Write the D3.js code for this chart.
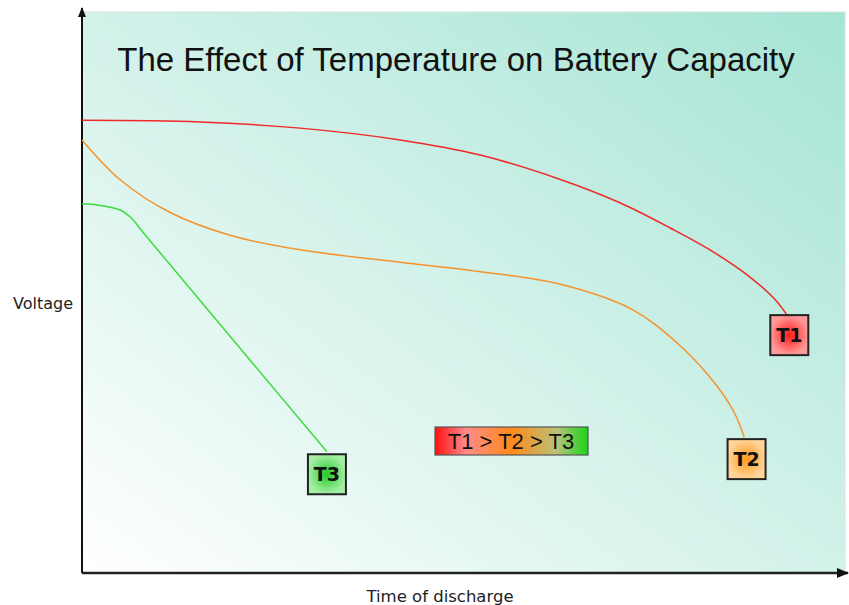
<!DOCTYPE html>
<html lang="en">
<head>
<meta charset="UTF-8">
<script src="https://d3js.org/d3.v7.min.js"></script>
<style>
  body { margin: 0; background: #fff; }
  svg { display: block; }
</style>
</head>
<body>
<div id="chart"></div>
<script>
// discharge curves: [time, voltage] in arbitrary units (0-100)
const t1Curve = [[0, 80.7], [15.5, 80.4], [28.6, 79.3], [41.7, 77.2], [52.2, 74.5], [62.6, 70.2],
                 [70.5, 66.0], [77.1, 61.5], [82.3, 57.6], [87.5, 52.8], [90.8, 48.8], [92.5, 45.8]];
const t2Curve = [[0, 77.2], [5.0, 70.1], [11.5, 64.3], [19.4, 60.2], [28.6, 57.6], [41.7, 55.4],
                 [52.2, 53.7], [62.6, 51.5], [72.2, 46.9], [78.0, 41.0], [82.3, 34.9], [85.3, 29.1], [86.8, 24.2]];
const t3Curve = [[0, 65.8], [2.0, 65.6], [5.0, 64.7], [6.3, 63.5], [8.5, 59.9], [32.1, 21.6]];

const seriesNames = ["T1", "T2", "T3"];
const lineColors = ["#f02828", "#f5922a", "#3ddc3d"];
const boxColors = [["#ff1a1a", "#ff9a9a"], ["#ff9a1a", "#ffd49a"], ["#22cc22", "#a6eea6"]];
// label box centres [time, voltage]
const labelPos = [[92.7, 42.4], [87.1, 20.3], [32.1, 17.6]];

const width = 849, height = 605;
const svg = d3.select("#chart").append("svg")
  .attr("width", width).attr("height", height);

const x = d3.scaleLinear().domain([0, 100]).range([82, 845]);
const y = d3.scaleLinear().domain([0, 100]).range([573, 12]);

const defs = svg.append("defs");
const bg = defs.append("linearGradient").attr("id", "bg")
  .attr("x1", 0).attr("y1", 1).attr("x2", 1).attr("y2", 0);
bg.append("stop").attr("offset", "0%").attr("stop-color", "#ffffff");
bg.append("stop").attr("offset", "100%").attr("stop-color", "#a5e4d4");

boxColors.forEach((c, i) => {
  const g = defs.append("radialGradient").attr("id", "box" + i);
  g.append("stop").attr("offset", "0%").attr("stop-color", c[0]);
  g.append("stop").attr("offset", "100%").attr("stop-color", c[1]);
});

const lg = defs.append("linearGradient").attr("id", "legend");
lg.append("stop").attr("offset", "0%").attr("stop-color", "#ff1010");
lg.append("stop").attr("offset", "20%").attr("stop-color", "#ff8a8a");
lg.append("stop").attr("offset", "50%").attr("stop-color", "#ff8a1a");
lg.append("stop").attr("offset", "80%").attr("stop-color", "#b8c27a");
lg.append("stop").attr("offset", "100%").attr("stop-color", "#1ad41a");

// background panel
svg.append("rect")
  .attr("x", x(0)).attr("y", y(100))
  .attr("width", x(100) - x(0)).attr("height", y(0) - y(100))
  .attr("fill", "url(#bg)")
  .attr("stroke", "#d8e4e0").attr("stroke-width", 1);

// arrow marker
defs.append("marker").attr("id", "arrow")
  .attr("viewBox", "0 0 10 10").attr("refX", 9).attr("refY", 5)
  .attr("markerWidth", 5).attr("markerHeight", 5).attr("orient", "auto")
  .append("path").attr("d", "M0,1 L10,5 L0,9 Z").attr("fill", "#111");

svg.append("line")
  .attr("x1", x(0)).attr("y1", y(0)).attr("x2", x(0)).attr("y2", 8)
  .attr("stroke", "#111").attr("stroke-width", 2).attr("marker-end", "url(#arrow)");
svg.append("line")
  .attr("x1", x(0)).attr("y1", y(0)).attr("x2", 848).attr("y2", y(0))
  .attr("stroke", "#222").attr("stroke-width", 2.5).attr("marker-end", "url(#arrow)");

// curves
const line = d3.line().x(d => x(d[0])).y(d => y(d[1])).curve(d3.curveCatmullRom.alpha(0.5));
[t1Curve, t2Curve, t3Curve].forEach((data, i) => {
  svg.append("path")
    .datum(data)
    .attr("d", line)
    .attr("fill", "none")
    .attr("stroke", lineColors[i])
    .attr("stroke-width", 1.5);
});

// label boxes
seriesNames.forEach((name, i) => {
  const cx = x(labelPos[i][0]), cy = y(labelPos[i][1]);
  svg.append("rect")
    .attr("x", cx - 19).attr("y", cy - 20)
    .attr("width", 38).attr("height", 40)
    .attr("fill", `url(#box${i})`)
    .attr("stroke", "#222").attr("stroke-width", 2);
  svg.append("text")
    .attr("x", cx).attr("y", cy + 7)
    .attr("text-anchor", "middle")
    .attr("font-family", "DejaVu Sans, sans-serif")
    .attr("font-weight", "bold")
    .attr("font-size", 19)
    .attr("fill", "#111")
    .text(name);
});

// legend
svg.append("rect")
  .attr("x", 435).attr("y", 427).attr("width", 153).attr("height", 28)
  .attr("fill", "url(#legend)")
  .attr("stroke", "#555").attr("stroke-width", 1.2);
svg.append("text")
  .attr("x", 511).attr("y", 449)
  .attr("text-anchor", "middle")
  .attr("font-family", "Liberation Sans, Arial, sans-serif")
  .attr("font-size", 22)
  .attr("fill", "#111")
  .text("T1 > T2 > T3");

// title
svg.append("text")
  .attr("x", 456).attr("y", 71)
  .attr("text-anchor", "middle")
  .attr("font-family", "Liberation Sans, Arial, sans-serif")
  .attr("font-size", 33)
  .attr("fill", "#111")
  .text("The Effect of Temperature on Battery Capacity");

// axis labels
svg.append("text")
  .attr("x", 43).attr("y", 309)
  .attr("text-anchor", "middle")
  .attr("font-family", "DejaVu Sans, sans-serif")
  .attr("font-size", 16)
  .attr("fill", "#222")
  .text("Voltage");
svg.append("text")
  .attr("x", 440).attr("y", 602)
  .attr("text-anchor", "middle")
  .attr("font-family", "DejaVu Sans, sans-serif")
  .attr("font-size", 16.5)
  .attr("fill", "#222")
  .text("Time of discharge");
</script>
</body>
</html>
